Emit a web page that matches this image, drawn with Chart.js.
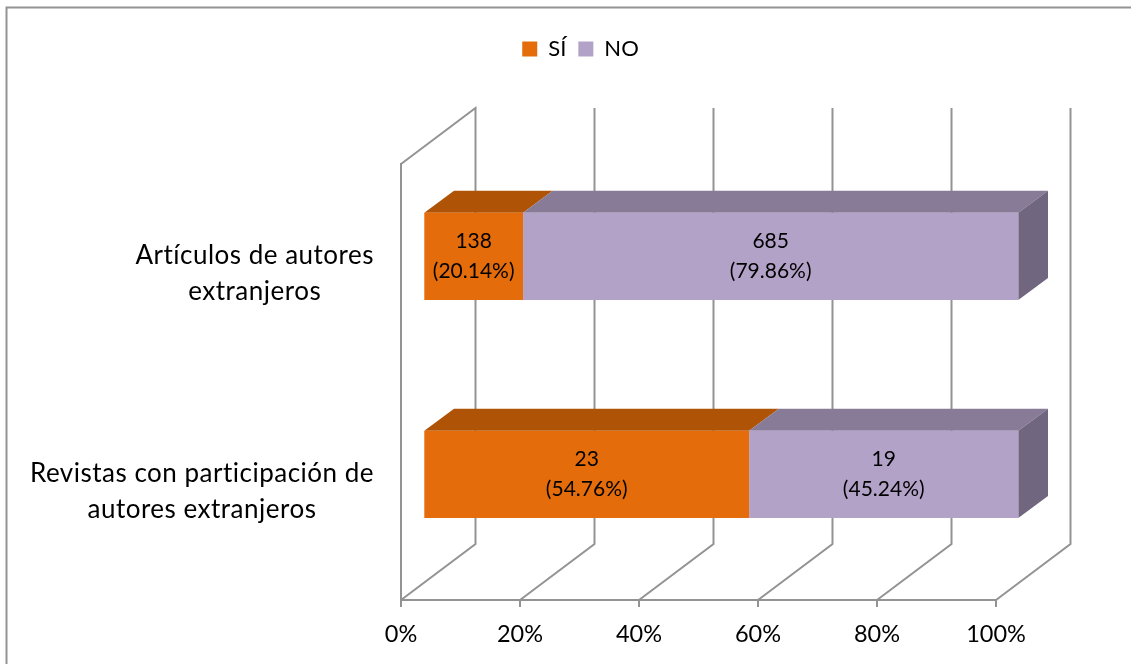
<!DOCTYPE html>
<html>
<head>
<meta charset="utf-8">
<title>Participación de autores extranjeros</title>
<script src="https://cdn.jsdelivr.net/npm/chart.js@4"></script>
<style>
    html, body { margin: 0; padding: 0; background: #fff; }
    #wrap { width: 1131px; height: 664px; }
</style>
</head>
<body>
<div id="wrap"><canvas id="chart" width="1131" height="664"></canvas></div>
<script>
// ====== DATOS ======
const categories = [
    ['Artículos de autores', 'extranjeros'],
    ['Revistas con participación de', 'autores extranjeros']
];
const seriesNames = ['SÍ', 'NO'];
const siValues = [138, 23];
const noValues = [685, 19];
// los porcentajes impresos en la fuente no siempre coinciden con las barras
const siPercents = ['20.14%', '54.76%'];
const noPercents = ['79.86%', '45.24%'];
const xTicks = [0, 20, 40, 60, 80, 100];

// ====== ESTILO ======
const fontName = 'Lato, "Open Sans", sans-serif';
const gray = '#939393';
const frontColors = ['#e46c0a', '#b3a2c7'];
const topColors = ['#af5307', '#887b97'];
const sideColor = '#71667f';

const wallDx = 74.5, wallDy = -56;   // profundidad de las paredes
const barDx = 22.3, barDy = -16.7;   // la barra esta metida en el fondo
const faceDx = 29.7, faceDy = -22;   // profundidad de la barra

// barras apiladas al 100%
const totals = siValues.map((v, i) => v + noValues[i]);
const siShare = siValues.map((v, i) => v / totals[i] * 100);
const noShare = noValues.map((v, i) => v / totals[i] * 100);

function poly(ctx, pts, color) {
    ctx.fillStyle = color;
    ctx.beginPath();
    pts.forEach((p, i) => i ? ctx.lineTo(p[0], p[1]) : ctx.moveTo(p[0], p[1]));
    ctx.closePath();
    ctx.fill();
}

const fakeDepth = {
    id: 'fakeDepth',
    beforeInit(chart) {
        // la leyenda ocupa todo el alto hasta el area del grafico
        const fit = chart.legend.fit;
        chart.legend.fit = function () {
            fit.call(this);
            this.height = 164 - 26;
        };
    },
    afterLayout(chart) {
        // centrar la leyenda como en el original, no sobre el area del grafico
        chart.legend.right = 1161;
    },
    beforeDraw(chart) {
        const ctx = chart.ctx;
        ctx.save();
        ctx.strokeStyle = gray;
        ctx.lineWidth = 2;
        ctx.beginPath();
        ctx.moveTo(6.5, 664);
        ctx.lineTo(6.5, 7.5);
        ctx.lineTo(1131, 7.5);
        ctx.stroke();
        ctx.restore();
    },
    beforeDatasetsDraw(chart) {
        const ctx = chart.ctx, area = chart.chartArea, x = chart.scales.x;
        ctx.save();
        ctx.strokeStyle = gray;
        ctx.lineWidth = 2;
        xTicks.forEach((t) => {
            const px = x.getPixelForValue(t);
            ctx.beginPath();
            ctx.moveTo(px, area.bottom);
            ctx.lineTo(px + wallDx, area.bottom + wallDy);
            ctx.lineTo(px + wallDx, area.top + wallDy);
            if (t === 0) ctx.lineTo(px, area.top);
            ctx.stroke();
        });

        // caras de arriba y lado derecho, luego las barras van corridas
        ctx.translate(barDx, barDy);
        chart.data.datasets.forEach((ds, d) => {
            chart.getDatasetMeta(d).data.forEach((bar) => {
                const top = bar.y - bar.height / 2, bottom = bar.y + bar.height / 2;
                poly(ctx, [[bar.base, top], [bar.x, top], [bar.x + faceDx, top + faceDy], [bar.base + faceDx, top + faceDy]], topColors[d]);
                if (d === chart.data.datasets.length - 1) {
                    poly(ctx, [[bar.x, top], [bar.x + faceDx, top + faceDy], [bar.x + faceDx, bottom + faceDy], [bar.x, bottom]], sideColor);
                }
            });
        });
    },
    afterDatasetsDraw(chart) {
        const ctx = chart.ctx;
        // etiquetas dentro de las barras
        ctx.fillStyle = '#000';
        ctx.font = '21px ' + fontName;
        ctx.textAlign = 'center';
        ctx.textBaseline = 'middle';
        const counts = [siValues, noValues], pcts = [siPercents, noPercents];
        chart.data.datasets.forEach((ds, d) => {
            chart.getDatasetMeta(d).data.forEach((bar, i) => {
                const cx = (bar.base + bar.x) / 2;
                ctx.fillText(String(counts[d][i]), cx, bar.y - 15);
                ctx.fillText('(' + pcts[d][i] + ')', cx, bar.y + 15);
            });
        });
        ctx.restore();

        // categorias: bloque pegado a la derecha, lineas centradas
        const y = chart.scales.y;
        ctx.save();
        ctx.fillStyle = '#000';
        ctx.font = '26px ' + fontName;
        ctx.letterSpacing = '0.5px';
        ctx.textAlign = 'center';
        ctx.textBaseline = 'middle';
        categories.forEach((lines, i) => {
            const w = Math.max(...lines.map((l) => ctx.measureText(l).width));
            const cy = y.getPixelForValue(i);
            lines.forEach((l, n) => ctx.fillText(l, 374 - w / 2, cy + 1 + (n - 0.5) * 36));
        });
        ctx.restore();
    }
};

new Chart(document.getElementById('chart'), {
    type: 'bar',
    data: {
        labels: categories,
        datasets: [
            { label: seriesNames[0], data: siShare, backgroundColor: frontColors[0] },
            { label: seriesNames[1], data: noShare, backgroundColor: frontColors[1] }
        ]
    },
    options: {
        indexAxis: 'y',
        responsive: false,
        animation: false,
        categoryPercentage: 1,
        barPercentage: 0.4,
        layout: { padding: { top: 26, left: 0, right: 135, bottom: 0 } },
        plugins: {
            tooltip: { enabled: false },
            legend: {
                position: 'top',
                labels: {
                    boxWidth: 15,
                    boxHeight: 15,
                    padding: 12,
                    color: '#000',
                    font: { family: fontName, size: 22 }
                }
            }
        },
        scales: {
            x: {
                stacked: true,
                min: 0,
                max: 100,
                afterFit(s) { s.height = 64; },
                afterBuildTicks(s) { s.ticks = xTicks.map((v) => ({ value: v })); },
                border: { color: gray, width: 2 },
                grid: { drawOnChartArea: false, color: gray, lineWidth: 2, tickLength: 7 },
                ticks: {
                    color: '#000',
                    padding: 13,
                    maxRotation: 0,
                    font: { family: fontName, size: 23.5 },
                    callback: (v) => v + '%'
                }
            },
            y: {
                stacked: true,
                afterFit(s) { s.width = 401; },
                border: { color: gray, width: 2 },
                grid: { display: false },
                ticks: { display: false }
            }
        }
    },
    plugins: [fakeDepth]
});
</script>
</body>
</html>
